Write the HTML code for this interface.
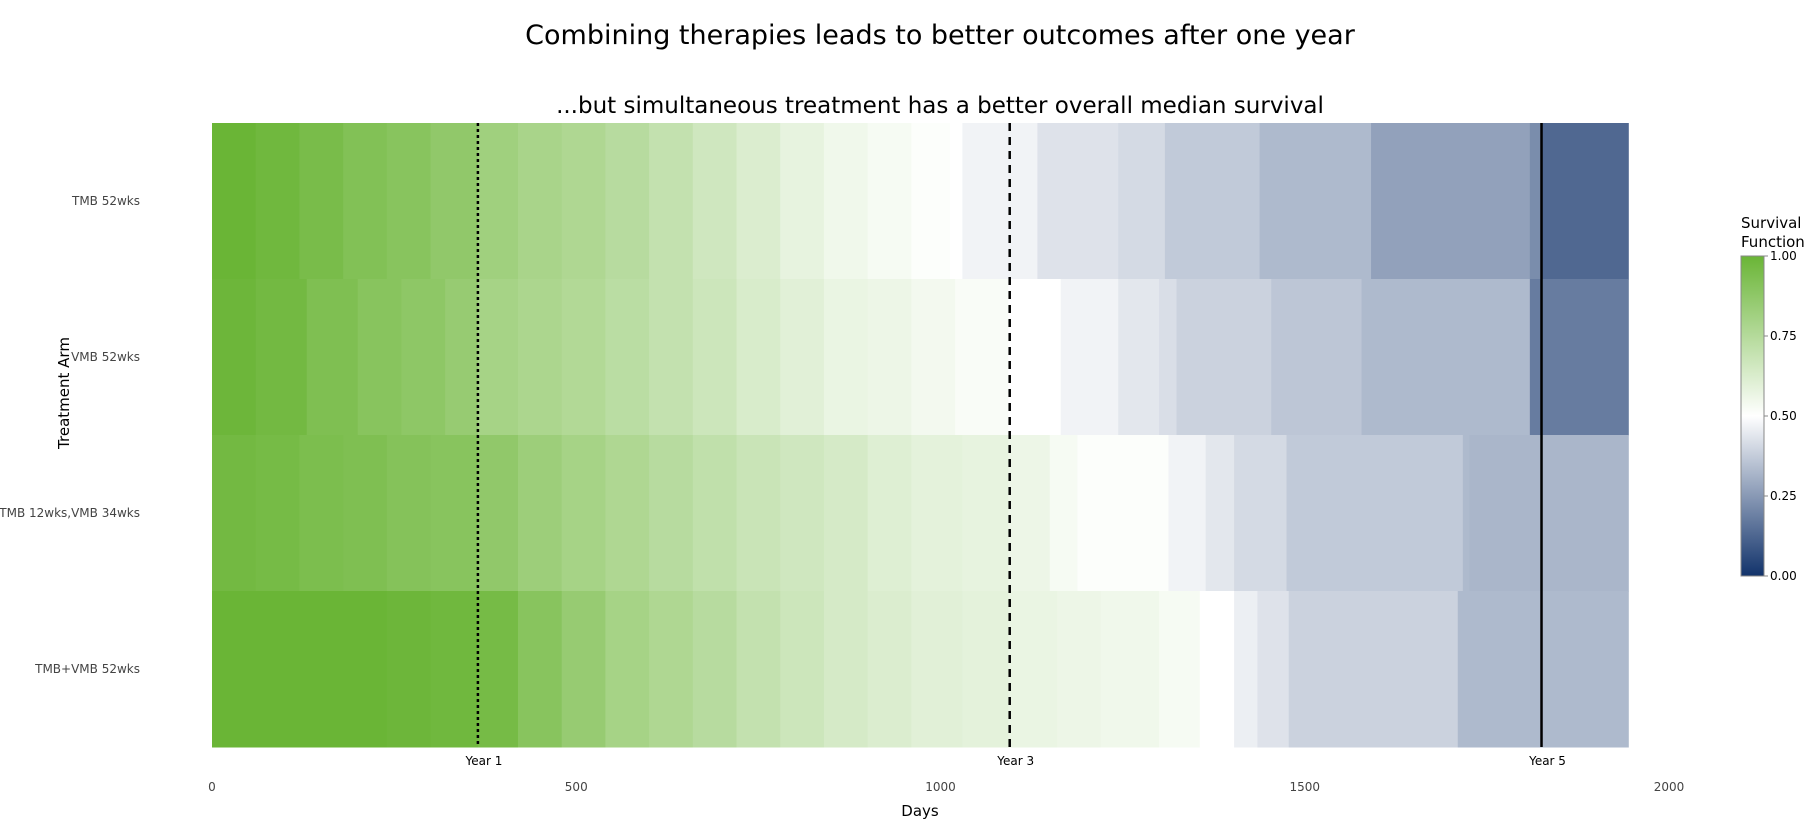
<!DOCTYPE html>
<html><head><meta charset="utf-8"><style>
body{margin:0;background:#fff;font-family:"Liberation Sans",Verdana,sans-serif}
svg text{font-family:"DejaVu Sans","Liberation Sans",sans-serif}
</style></head><body>
<svg id="chart" width="1817" height="830" xmlns="http://www.w3.org/2000/svg">
<text x="940" y="44" text-anchor="middle" font-size="27" fill="#000">Combining therapies leads to better outcomes after one year</text>
<text x="940" y="113" text-anchor="middle" font-size="23" fill="#000">...but simultaneous treatment has a better overall median survival</text>
<g id="cells"></g>
<g id="lines"></g>
<g id="axes"></g>
<text x="920" y="816" text-anchor="middle" font-size="15" fill="#000">Days</text>
<text transform="translate(69,393) rotate(-90)" text-anchor="middle" font-size="15" fill="#000">Treatment Arm</text>
<defs><linearGradient id="cbg" x1="0" y1="1" x2="0" y2="0">
<stop offset="0" stop-color="#12336b"/><stop offset="0.5" stop-color="#ffffff"/><stop offset="1" stop-color="#6ab536"/></linearGradient></defs>
<g>
<text x="1741" y="228" font-size="15" fill="#000">Survival</text>
<text x="1741" y="247" font-size="15" fill="#000">Function</text>
<rect x="1741" y="256" width="23" height="320" fill="url(#cbg)" stroke="#888" stroke-width="1"/>
<g id="cbticks"></g>
</g>
</svg>
<script>
const xMax = 1944;
const arms = ["TMB 52wks","VMB 52wks","TMB 12wks,VMB 34wks","TMB+VMB 52wks"];
const tmb52Times = [0,60,120,180,240,300,365,420,480,540,600,660,720,780,840,900,960,1013,1030,1133,1244,1308,1438,1591,1809,1825];
const tmb52Vals  = [1.0,0.98,0.95,0.92,0.9,0.87,0.82,0.79,0.77,0.74,0.7,0.66,0.62,0.58,0.55,0.53,0.51,0.5,0.47,0.43,0.41,0.37,0.33,0.27,0.22,0.13];
const vmb52Times = [0,60,130,200,260,320,365,420,480,540,600,660,720,780,840,900,960,1020,1093,1165,1244,1300,1324,1454,1578,1809];
const vmb52Vals  = [0.99,0.97,0.93,0.9,0.88,0.85,0.8,0.78,0.76,0.73,0.7,0.67,0.63,0.6,0.57,0.56,0.54,0.52,0.5,0.47,0.44,0.42,0.39,0.36,0.33,0.18];
const seqTimes = [0,60,120,180,240,300,365,420,480,540,600,660,720,780,840,900,960,1030,1093,1150,1188,1313,1364,1403,1475,1717,1726];
const seqVals  = [0.97,0.96,0.94,0.93,0.91,0.9,0.87,0.83,0.8,0.77,0.74,0.71,0.68,0.66,0.64,0.61,0.59,0.58,0.56,0.53,0.51,0.47,0.44,0.41,0.37,0.33,0.32];
const simTimes = [0,120,240,300,365,420,480,540,600,660,720,780,840,900,960,1030,1093,1160,1220,1300,1356,1403,1435,1478,1710];
const simVals  = [1.0,1.0,0.99,0.98,0.96,0.9,0.85,0.8,0.77,0.74,0.7,0.67,0.64,0.62,0.6,0.59,0.57,0.56,0.55,0.53,0.5,0.46,0.43,0.39,0.33];
const xTicks = [0,500,1000,1500,2000];
const yearDays = [365,1095,1825];
const yearLabels = ["Year 1","Year 3","Year 5"];
const cbTicks = [0,0.25,0.5,0.75,1];

const NS="http://www.w3.org/2000/svg";
const X0=212,PX=0.7285,TOP=123,ROWH=156;
const xs=d=>X0+d*PX;
const ys=i=>TOP+i*ROWH;
function color(v){
  const navy=[18,51,107],w=[255,255,255],g=[106,181,54];
  let a,b,t;
  if(v<0.5){a=navy;b=w;t=v/0.5;}else{a=w;b=g;t=(v-0.5)/0.5;}
  return `rgb(${a.map((c,i)=>Math.round(c+(b[i]-c)*t)).join(',')})`;
}
function mk(tag,attrs,parent){const e=document.createElementNS(NS,tag);for(const k in attrs)e.setAttribute(k,attrs[k]);parent.appendChild(e);return e;}
const series=[[tmb52Times,tmb52Vals],[vmb52Times,vmb52Vals],[seqTimes,seqVals],[simTimes,simVals]];
const cells=document.getElementById('cells');
series.forEach(([T,V],r)=>{
  T.forEach((t,i)=>{
    const t2=i<T.length-1?T[i+1]:xMax;
    const rc=mk('rect',{x:xs(t),y:ys(r),width:xs(t2)-xs(t)+0.6,height:ROWH+0.5,fill:color(V[i])},cells);
    
    
  });
});
const axes=document.getElementById('axes');
arms.forEach((a,r)=>{
  const t=mk('text',{x:140,y:ys(r)+ROWH/2+4,'text-anchor':'end','font-size':12,fill:'#444'},axes);
  t.textContent=a;
  
  
});
xTicks.forEach(d=>{
  const t=mk('text',{x:xs(d),y:791,'text-anchor':'middle','font-size':12,fill:'#444'},axes);
  t.textContent=d;
  
  
});
const lines=document.getElementById('lines');
const dashes=["3,3","8,6","none"];
yearDays.forEach((d,i)=>{
  const l=mk('line',{x1:xs(d),x2:xs(d),y1:TOP,y2:TOP+4*ROWH,stroke:'#000','stroke-width':2.5,'stroke-dasharray':dashes[i]},lines);
  
  
  const t=mk('text',{x:xs(d)+6,y:765,'text-anchor':'middle','font-size':12,fill:'#000'},lines);
  t.textContent=yearLabels[i];
  
  
});
const cb=document.getElementById('cbticks');
cbTicks.forEach(v=>{
  const y=576-v*320;
  mk('line',{x1:1764,x2:1768,y1:y,y2:y,stroke:'#888'},cb);
  const t=mk('text',{x:1770,y:y+4,'font-size':12,fill:'#000'},cb);
  t.textContent=v.toFixed(2);
  
  
});
</script>
</body></html>
